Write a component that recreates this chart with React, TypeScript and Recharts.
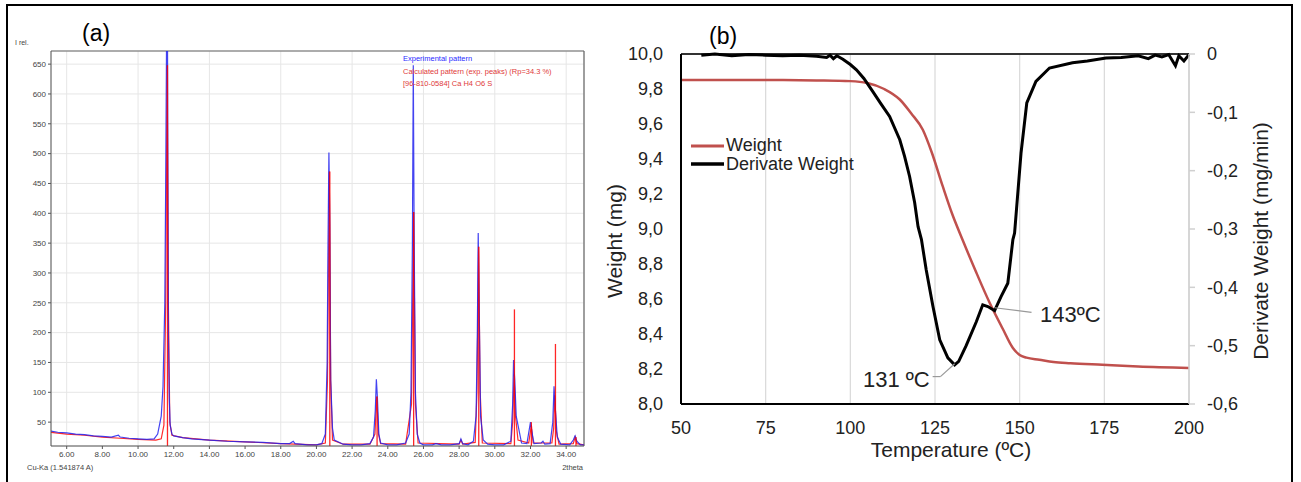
import React from 'react';
import { LineChart, Line, XAxis, YAxis, CartesianGrid, ReferenceLine } from 'recharts';

// ---------- Panel (a): XRD pattern ----------
const xrdAngles = [5.12, 5.5, 6.0, 6.5, 7.0, 7.5, 8.0, 8.5, 8.9, 9.0, 9.5, 10.0, 10.5, 10.9, 11.1, 11.3, 11.4, 11.5, 11.55, 11.6, 11.65, 11.7, 11.75, 11.8, 11.9, 12.0, 12.5, 13.0, 14.0, 15.0, 16.0, 17.0, 18.0, 18.5, 18.7, 18.8, 19.5, 20.0, 20.3, 20.5, 20.6, 20.65, 20.7, 20.75, 20.8, 20.9, 21.0, 21.5, 22.0, 22.5, 23.0, 23.2, 23.3, 23.36, 23.42, 23.5, 23.6, 24.0, 24.5, 25.0, 25.2, 25.3, 25.38, 25.43, 25.48, 25.55, 25.65, 25.8, 26.0, 26.5, 26.7, 27.0, 27.5, 28.0, 28.1, 28.2, 28.5, 28.8, 28.95, 29.02, 29.07, 29.12, 29.2, 29.35, 29.6, 30.0, 30.5, 30.9, 31.0, 31.05, 31.12, 31.2, 31.3, 31.4, 31.5, 31.8, 32.0, 32.1, 32.2, 32.6, 32.7, 32.8, 33.1, 33.25, 33.32, 33.4, 33.5, 33.7, 34.2, 34.4, 34.5, 34.6, 34.8, 35.0];
const xrdExperimental = [35, 33, 32, 30, 29, 27, 26, 25, 28, 25, 23, 22, 21, 22, 30, 60, 110, 250, 450, 700, 700, 200, 90, 45, 30, 27, 24, 22, 20, 18, 17, 16, 14, 14, 18, 14, 12, 12, 14, 30, 150, 350, 502, 380, 120, 40, 20, 13, 12, 12, 14, 25, 70, 122, 90, 30, 15, 12, 12, 15, 30, 100, 350, 648, 350, 100, 30, 15, 12, 12, 14, 12, 12, 14, 22, 14, 12, 18, 60, 200, 367, 250, 60, 20, 13, 12, 12, 18, 80, 154, 120, 60, 45, 30, 15, 14, 50, 30, 14, 15, 18, 13, 14, 50, 110, 70, 25, 13, 12, 20, 27, 18, 12, 12];

const calcAngles = [5.12, 6, 7, 8, 9, 10, 11, 11.3, 11.45, 11.55, 11.63, 11.7, 11.78, 11.9, 12.5, 14, 16, 18, 20, 20.5, 20.62, 20.72, 20.8, 20.9, 21.5, 23, 23.28, 23.38, 23.48, 23.6, 25, 25.33, 25.45, 25.55, 25.7, 28, 28.1, 28.2, 28.9, 29.0, 29.09, 29.18, 29.3, 30.9, 31.0, 31.08, 31.16, 31.3, 31.9, 32.05, 32.15, 33.2, 33.3, 33.36, 33.45, 33.6, 34.4, 34.5, 34.6, 35];
const calcIntensity = [33, 30, 28, 25, 23, 21, 20, 22, 45, 250, 648, 250, 50, 28, 24, 20, 17, 14, 12, 15, 120, 470, 120, 20, 13, 13, 30, 93, 30, 14, 13, 80, 402, 80, 15, 13, 20, 13, 16, 100, 344, 100, 15, 14, 50, 130, 60, 20, 15, 45, 15, 15, 40, 95, 35, 13, 14, 25, 14, 12];

const refAngles = [11.65, 20.75, 23.4, 25.45, 29.1, 31.1, 32.05, 33.4, 34.55];
const refHeights = [648, 470, 93, 402, 344, 239, 50, 181, 25];

const xrdTicks = [6, 8, 10, 12, 14, 16, 18, 20, 22, 24, 26, 28, 30, 32, 34];
const intensityTicks = [50, 100, 150, 200, 250, 300, 350, 400, 450, 500, 550, 600, 650];

// ---------- Panel (b): TGA ----------
const weightTemps = [50, 60, 70, 80, 90, 100, 105, 110, 114.6, 118, 121.4, 124, 127.3, 130, 133.1, 137, 141.1, 145, 148, 150, 152, 155.8, 160, 165, 174.4, 185, 200];
const weightValues = [9.851, 9.852, 9.852, 9.851, 9.849, 9.845, 9.834, 9.8, 9.74, 9.66, 9.567, 9.44, 9.243, 9.09, 8.94, 8.76, 8.58, 8.43, 8.32, 8.28, 8.265, 8.253, 8.24, 8.233, 8.224, 8.214, 8.206];

const derivTemps = [56, 60, 65, 70, 75, 80, 85, 90, 93, 94, 95, 96, 97.8, 100, 101.8, 104, 106.6, 109, 111.6, 114.6, 116, 117.5, 119, 120, 121, 122.4, 124.4, 126.4, 128.8, 130.8, 132, 134.2, 137.2, 139.1, 140.6, 142.6, 144.5, 146.5, 148, 148.5, 150.4, 152.1, 154.8, 158.8, 165.6, 170, 175.5, 180, 185, 188, 190, 192, 194, 196, 197, 198.5, 200];
const derivValues = [-0.002, 0.0, -0.003, -0.001, -0.002, -0.003, -0.002, -0.004, -0.006, -0.002, -0.008, -0.003, -0.009, -0.018, -0.027, -0.042, -0.064, -0.085, -0.107, -0.147, -0.175, -0.21, -0.255, -0.296, -0.318, -0.37, -0.433, -0.49, -0.521, -0.533, -0.527, -0.5, -0.459, -0.43, -0.433, -0.44, -0.416, -0.393, -0.318, -0.307, -0.17, -0.084, -0.047, -0.024, -0.015, -0.012, -0.007, -0.006, -0.003, -0.008, -0.002, -0.005, -0.001, -0.02, -0.003, -0.012, -0.001];

const tempTicks = [50, 75, 100, 125, 150, 175, 200];
const weightTicks = [8.0, 8.2, 8.4, 8.6, 8.8, 9.0, 9.2, 9.4, 9.6, 9.8, 10.0];
const derivTicks = [-0.6, -0.5, -0.4, -0.3, -0.2, -0.1, 0];

// annotation leaders (temperature, derivative)
const leader131T = [124.3, 126.6, 130.8];
const leader131D = [-0.553, -0.553, -0.531];
const leader143T = [142.6, 153.5];
const leader143D = [-0.435, -0.443];

const expData = xrdAngles.map((x, i) => ({ x, y: xrdExperimental[i] }));
const calcData = calcAngles.map((x, i) => ({ x, y: calcIntensity[i] }));
const weightData = weightTemps.map((t, i) => ({ t, v: weightValues[i] }));
const derivData = derivTemps.map((t, i) => ({ t, v: derivValues[i] }));

const sansA = 'Arial, "Liberation Sans", sans-serif';

const fmtComma = (v: number) => (v === 0 ? '0' : v.toFixed(1).replace('.', ','));

export default function App() {
  return (
    <div style={{ position: 'absolute', left: 0, top: 0, width: 1301, height: 482, background: '#fff', overflow: 'hidden', fontFamily: sansA }}>
      <div style={{ position: 'absolute', left: 6, top: 4, width: 1287, height: 520, border: '2px solid #000', boxSizing: 'border-box' }} />

      {/* Panel (a) */}
      <div style={{ position: 'absolute', left: 0, top: 0 }}>
        <LineChart width={600} height={482} margin={{ top: 51, right: 16, left: 11, bottom: 16 }}>
          <CartesianGrid stroke="#e6e6e6" strokeWidth={1} />
          <XAxis
            type="number"
            dataKey="x"
            domain={[5.12, 35]}
            ticks={xrdTicks}
            allowDataOverflow
            tickFormatter={(v: number) => v.toFixed(2)}
            tick={{ fontSize: 8, fill: '#444', fontFamily: sansA }}
            tickSize={3}
            tickMargin={2}
            axisLine={{ stroke: '#555' }}
            tickLine={{ stroke: '#555' }}
            height={20}
          />
          <YAxis
            type="number"
            dataKey="y"
            domain={[10, 672]}
            ticks={intensityTicks}
            allowDataOverflow
            tick={{ fontSize: 8, fill: '#444', fontFamily: sansA }}
            tickSize={3}
            tickMargin={2}
            axisLine={{ stroke: '#555' }}
            tickLine={{ stroke: '#555' }}
            width={40}
          />
          <ReferenceLine y={672} stroke="#666" strokeWidth={1.2} />
          <ReferenceLine x={35} stroke="#666" strokeWidth={1.2} />
          <Line data={calcData} dataKey="y" stroke="#ff2a2a" strokeWidth={1.2} dot={false} isAnimationActive={false} />
          <Line data={expData} dataKey="y" stroke="#2222ee" strokeWidth={1.2} strokeOpacity={0.85} dot={false} isAnimationActive={false} />
          {refAngles.map((a, i) => (
            <ReferenceLine
              key={'ref' + i}
              segment={[{ x: a, y: 10 }, { x: a, y: refHeights[i] }]}
              stroke="#ff0000"
              strokeWidth={1.3}
              strokeOpacity={0.85}
            />
          ))}
        </LineChart>
      </div>

      {/* Panel (b) */}
      <div style={{ position: 'absolute', left: 600, top: 0 }}>
        <LineChart width={701} height={482} margin={{ top: 54, right: 52, left: 21, bottom: 48 }}>
          <CartesianGrid horizontal={false} stroke="#d9d9d9" strokeWidth={1.2} yAxisId="left" />
          <XAxis
            type="number"
            dataKey="t"
            domain={[50, 200]}
            ticks={tempTicks}
            tick={{ fontSize: 18, fill: '#222', fontFamily: sansA }}
            tickLine={false}
            tickSize={6}
            tickMargin={11}
            axisLine={{ stroke: '#000', strokeWidth: 2 }}
            height={30}
          />
          <YAxis
            yAxisId="left"
            type="number"
            domain={[8, 10]}
            ticks={weightTicks}
            tickFormatter={fmtComma}
            tick={{ fontSize: 18, fill: '#222', fontFamily: sansA }}
            tickLine={false}
            tickSize={6}
            tickMargin={12}
            axisLine={{ stroke: '#000', strokeWidth: 2 }}
            width={60}
          />
          <YAxis
            yAxisId="right"
            orientation="right"
            type="number"
            domain={[-0.6, 0]}
            ticks={derivTicks}
            tickFormatter={fmtComma}
            tick={{ fontSize: 18, fill: '#222', fontFamily: sansA, textAnchor: 'start' }}
            tickSize={6}
            tickMargin={12}
            axisLine={{ stroke: '#d0d0d0', strokeWidth: 1.5 }}
            tickLine={{ stroke: '#d0d0d0', strokeWidth: 1.5 }}
            width={60}
          />
          <ReferenceLine yAxisId="left" y={10} stroke="#333" strokeWidth={2} />
          <Line yAxisId="left" type="monotone" data={weightData} dataKey="v" stroke="#c0504d" strokeWidth={2.5} dot={false} isAnimationActive={false} />
          <Line yAxisId="right" data={derivData} dataKey="v" stroke="#000" strokeWidth={3} dot={false} isAnimationActive={false} />
          <ReferenceLine
            yAxisId="right"
            segment={[{ x: leader131T[0], y: leader131D[0] }, { x: leader131T[1], y: leader131D[1] }]}
            stroke="#999"
            strokeWidth={1.2}
          />
          <ReferenceLine
            yAxisId="right"
            segment={[{ x: leader131T[1], y: leader131D[1] }, { x: leader131T[2], y: leader131D[2] }]}
            stroke="#999"
            strokeWidth={1.2}
          />
          <ReferenceLine
            yAxisId="right"
            segment={[{ x: leader143T[0], y: leader143D[0] }, { x: leader143T[1], y: leader143D[1] }]}
            stroke="#999"
            strokeWidth={1.2}
          />
        </LineChart>
      </div>

      {/* Text overlay */}
      <svg width={1301} height={482} style={{ position: 'absolute', left: 0, top: 0, pointerEvents: 'none' }}>
        <g fontFamily={sansA}>
          <text x={15} y={45} fontSize={7} fill="#444">I rel.</text>
          <text x={82} y={41} fontSize={23} fill="#000">(a)</text>
          <text x={403} y={61} fontSize={7.5} fill="#2a2aff">Experimental pattern</text>
          <text x={403} y={74} fontSize={7.5} fill="#e03a3a">Calculated pattern (exp. peaks) (Rp=34.3 %)</text>
          <text x={403} y={86} fontSize={7.5} fill="#e03a3a">[96-810-0584] Ca H4 O6 S</text>
          <text x={27} y={470} fontSize={7.5} fill="#444">Cu-Ka (1.541874 A)</text>
          <text x={583} y={470} fontSize={7.5} fill="#444" textAnchor="end">2theta</text>

          <text x={709} y={44} fontSize={23} fill="#000">(b)</text>
          <text x={622} y={241} fontSize={21} fill="#222" textAnchor="middle" transform="rotate(-90 622 241)">Weight (mg)</text>
          <text x={1268} y={241} fontSize={21} fill="#222" textAnchor="middle" transform="rotate(-90 1268 241)">Derivate Weight (mg/min)</text>
          <text x={951} y={457} fontSize={21} fill="#222" textAnchor="middle">Temperature (ºC)</text>

          <line x1={691} y1={146} x2={724} y2={146} stroke="#c0504d" strokeWidth={3} />
          <text x={726} y={151} fontSize={18} fill="#222">Weight</text>
          <line x1={691} y1={164} x2={724} y2={164} stroke="#000" strokeWidth={3.5} />
          <text x={726} y={170} fontSize={18} fill="#222">Derivate Weight</text>

          <text x={863} y={387} fontSize={22} fill="#222">131 ºC</text>
          <text x={1040} y={322} fontSize={22} fill="#222">143ºC</text>
        </g>
      </svg>
    </div>
  );
}
